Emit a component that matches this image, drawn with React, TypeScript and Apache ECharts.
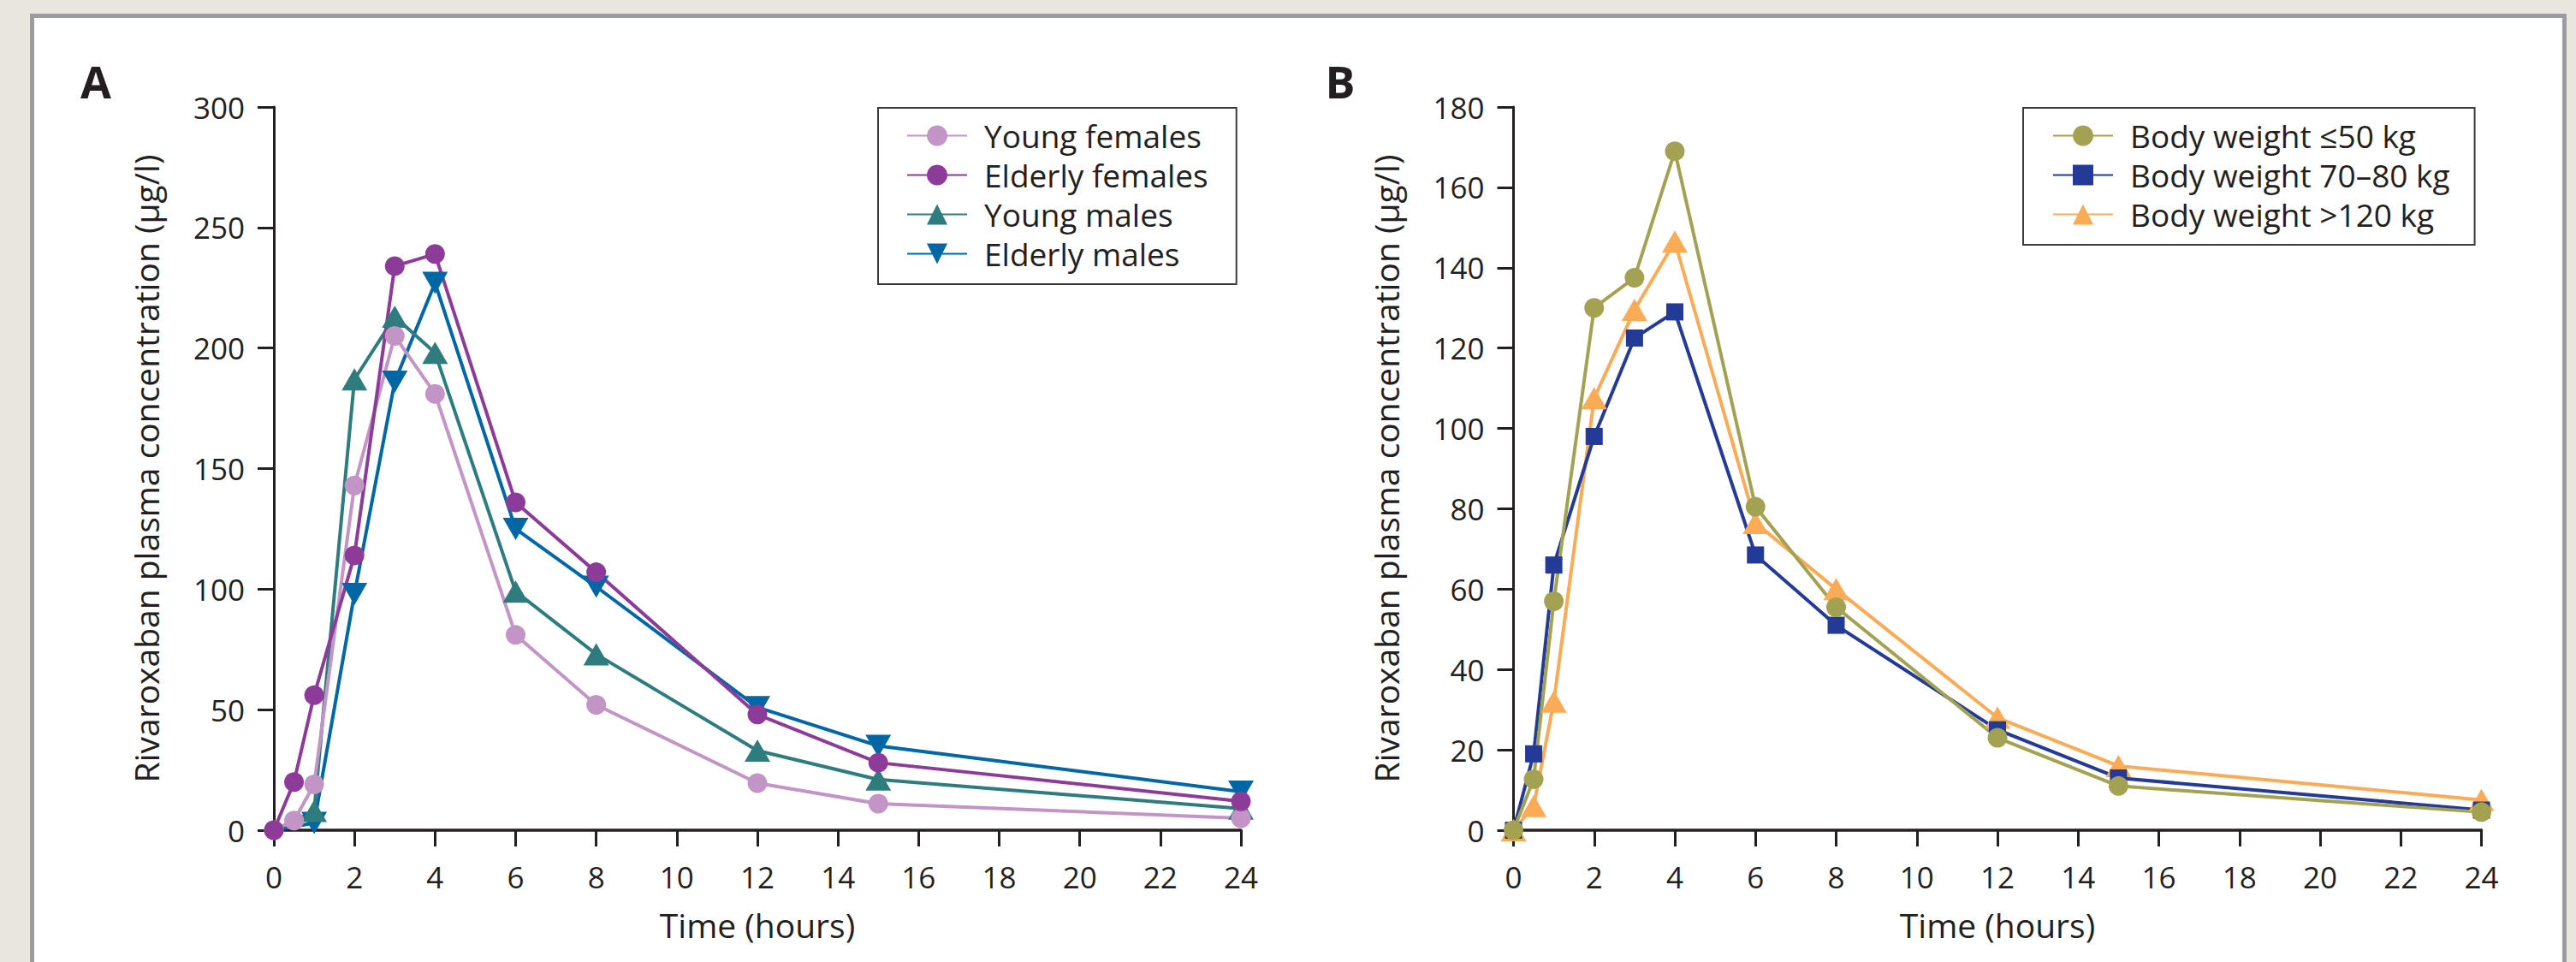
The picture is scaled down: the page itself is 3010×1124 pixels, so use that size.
import React, { useEffect, useRef } from "react";
import * as echarts from "echarts";

// ---------- Data ----------
const timesA = [0, 0.5, 1, 2, 3, 4, 6, 8, 12, 15, 24];
const timesMales = [0, 1, 2, 3, 4, 6, 8, 12, 15, 24];
const youngFemales = [0, 4, 19, 143, 205, 181, 81, 52, 19.5, 11, 5];
const elderlyFemales = [0, 20, 56, 114, 234, 239, 136, 107, 48, 28, 12];
const youngMales = [0, 8, 187, 213, 198, 99, 73, 33, 21, 9];
const elderlyMales = [0, 3, 98, 186, 227, 125, 101, 51, 35, 16];

const timesB = [0, 0.5, 1, 2, 3, 4, 6, 8, 12, 15, 24];
const bw50 = [0, 12.7, 57, 130, 137.5, 169, 80.5, 55.5, 23, 11, 4.5];
const bw7080 = [0, 19, 66, 98, 122.5, 129, 68.5, 51, 25, 13, 5];
const bw120 = [0, 6, 32, 107.5, 129.5, 146.5, 76.5, 60, 28, 16, 7.5];

const legendA = ["Young females", "Elderly females", "Young males", "Elderly males"];
const legendB = ["Body weight \u226450 kg", "Body weight 70\u201380 kg", "Body weight >120 kg"];

const xAxisTicks = { min: 0, max: 24, interval: 2 };
const yAxisTicksA = { min: 0, max: 300, interval: 50 };
const yAxisTicksB = { min: 0, max: 180, interval: 20 };

const xName = "Time (hours)";
const yName = "Rivaroxaban plasma concentration (\u03bcg/l)";

// ---------- Styling ----------
const FONT = "Open Sans";
const INK = "#231f20";
const DOWN_TRI = "path://M0,0L10,0L5,10Z";

function pairs(ts: number[], vs: number[], hideFirstSymbol: boolean) {
  return ts.map((t, i) =>
    hideFirstSymbol && i === 0 ? { value: [t, vs[i]], symbol: "none" } : [t, vs[i]]
  );
}

function lineSeries(
  name: string,
  color: string,
  symbol: string,
  size: number | number[],
  ts: number[],
  vs: number[],
  idx: number,
  hideFirstSymbol = false
) {
  return {
    type: "line",
    name,
    xAxisIndex: idx,
    yAxisIndex: idx,
    data: pairs(ts, vs, hideFirstSymbol),
    symbol,
    symbolSize: size,
    showAllSymbol: true,
    lineStyle: { color, width: 4 },
    itemStyle: { color, borderWidth: 0 },
    emphasis: { disabled: true },
    silent: true,
  };
}

function xAxis(idx: number) {
  return {
    type: "value",
    gridIndex: idx,
    ...xAxisTicks,
    name: xName,
    nameLocation: "middle",
    nameGap: 91,
    nameTextStyle: { fontFamily: FONT, fontSize: 39, color: INK },
    axisLine: { show: true, onZero: false, lineStyle: { color: INK, width: 3.5 } },
    axisTick: { show: true, inside: false, length: 19, lineStyle: { color: INK, width: 3 } },
    axisLabel: { margin: 37, fontFamily: FONT, fontSize: 35, color: INK },
    splitLine: { show: false },
  };
}

function yAxis(idx: number, ticks: any) {
  return {
    type: "value",
    gridIndex: idx,
    ...ticks,
    name: yName,
    nameLocation: "middle",
    nameGap: 130,
    nameTextStyle: { fontFamily: FONT, fontSize: 39, color: INK },
    axisLine: { show: true, onZero: false, lineStyle: { color: INK, width: 3 } },
    axisTick: { show: true, inside: false, length: 19, lineStyle: { color: INK, width: 3 } },
    axisLabel: { margin: 34, fontFamily: FONT, fontSize: 35, color: INK },
    splitLine: { show: false },
  };
}

function legend(data: string[], left: number, pad: number[]) {
  return {
    orient: "vertical",
    left,
    top: 126,
    data,
    itemWidth: 70,
    itemHeight: 30,
    itemGap: 9,
    padding: pad,
    borderColor: "#3a3a3a",
    borderWidth: 2,
    backgroundColor: "#ffffff",
    selectedMode: false,
    textStyle: {
      fontFamily: FONT,
      fontSize: 37,
      lineHeight: 37,
      color: INK,
      padding: [0, 0, 0, 15],
    },
  };
}

export default function App() {
  const ref = useRef<HTMLDivElement>(null);

  useEffect(() => {
    if (!ref.current) return;
    const chart = echarts.init(ref.current, undefined, { renderer: "svg" });
    const option: any = {
      animation: false,
      backgroundColor: "#e9e5df",
      graphic: [
        {
          type: "rect",
          z: -10,
          silent: true,
          shape: { x: 37.5, y: 18.5, width: 2959, height: 1200 },
          style: { fill: "#ffffff", stroke: "#9b9ca1", lineWidth: 5 },
        },
        {
          type: "text",
          x: 112,
          y: 94,
          silent: true,
          style: {
            text: "A",
            fontFamily: FONT,
            fontWeight: "bold",
            fontSize: 52,
            fill: INK,
            align: "center",
            verticalAlign: "middle",
          },
        },
        {
          type: "text",
          x: 1566,
          y: 94,
          silent: true,
          style: {
            text: "B",
            fontFamily: FONT,
            fontWeight: "bold",
            fontSize: 52,
            fill: INK,
            align: "center",
            verticalAlign: "middle",
          },
        },
      ],
      grid: [
        { left: 320, top: 125, width: 1130, height: 845 },
        { left: 1768.5, top: 125, width: 1131, height: 845 },
      ],
      xAxis: [xAxis(0), xAxis(1)],
      yAxis: [yAxis(0, yAxisTicksA), yAxis(1, yAxisTicksB)],
      legend: [
        legend(legendA, 1026, [14, 33, 17, 33]),
        legend(legendB, 2364, [14, 29, 17, 34]),
      ],
      series: [
        lineSeries(legendA[3], "#0067a6", DOWN_TRI, [30, 26], timesMales, elderlyMales, 0, true),
        lineSeries(legendA[2], "#2f7c7f", "triangle", [30, 26], timesMales, youngMales, 0, true),
        lineSeries(legendA[0], "#c295c6", "circle", 23, timesA, youngFemales, 0),
        lineSeries(legendA[1], "#8c3b98", "circle", 23, timesA, elderlyFemales, 0),
        lineSeries(legendB[2], "#fbab56", "triangle", [30, 26], timesB, bw120, 1),
        lineSeries(legendB[1], "#233a97", "rect", 20, timesB, bw7080, 1),
        lineSeries(legendB[0], "#a3a253", "circle", 23, timesB, bw50, 1),
      ],
    };
    chart.setOption(option);
    return () => chart.dispose();
  }, []);

  return (
    <div
      ref={ref}
      style={{ position: "fixed", left: 0, top: 0, width: 3010, height: 1124 }}
    />
  );
}
